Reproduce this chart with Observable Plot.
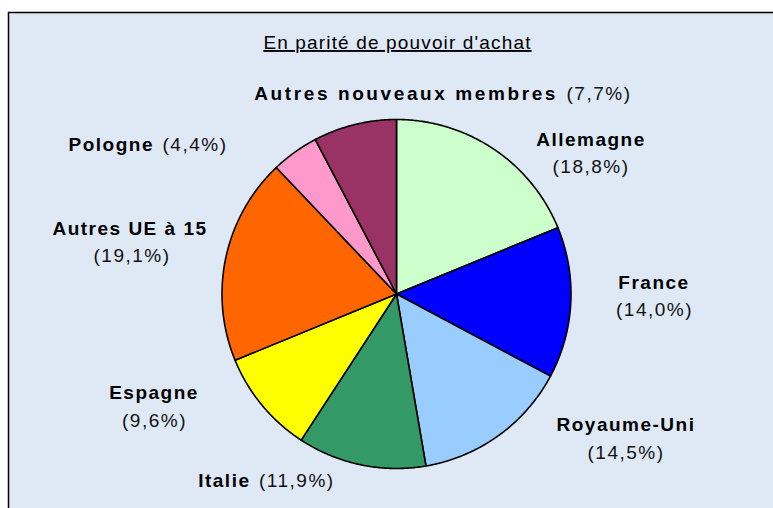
<!DOCTYPE html>
<html><head><meta charset="utf-8">
<script src="https://cdn.jsdelivr.net/npm/d3@7"></script>
<script src="https://cdn.jsdelivr.net/npm/@observablehq/plot@0.6"></script>
<style>
html,body{margin:0;padding:0;background:#fff;overflow:hidden;width:773px;height:508px}
#chart{width:773px;height:508px;overflow:hidden}
#chart svg{display:block;max-width:none !important}
</style>
</head><body><div id="chart"></div>
<script>
// ---- data ----
const pays = ["Allemagne", "France", "Royaume-Uni", "Italie", "Espagne", "Autres UE à 15", "Pologne", "Autres nouveaux membres"];
const parts = [18.8, 14.0, 14.5, 11.9, 9.6, 19.1, 4.4, 7.7];
const couleurs = ["#CCFFCC", "#0000FF", "#99CCFF", "#339966", "#FFFF00", "#FF6600", "#FF99CC", "#993366"];
const titre = "En parité de pouvoir d'achat";
const pctTexte = parts.map(v => "(" + v.toFixed(1).replace(".", ",") + "%)");

// ---- layout (pixels) ----
const W = 780, H = 515, mL = 8, mT = 12;
const cx = 396, cy = 293.5, R = 174.5;
const xDomain = [-(cx - mL) / R, (W - cx) / R];
const yDomain = [-(H - cy) / R, (cy - mT) / R];
const px = (X) => (X - cx) / R;
const py = (Y) => -(Y - cy) / R;

// label placement: two-line (centered) or one-line (junction between name and pct)
const labelLayout = [
  {mode: "two", x: 590.5, y: 145, px: 590.5, py: 172.5},
  {mode: "two", x: 653.5, y: 288, px: 654, py: 315.5},
  {mode: "two", x: 625.5, y: 430.5, px: 625.5, py: 458.5},
  {mode: "one", j: 253.5, y: 486},
  {mode: "two", x: 153.5, y: 398, px: 154, py: 426.5},
  {mode: "two", x: 129.5, y: 234, px: 131.5, py: 261.5},
  {mode: "one", j: 157, y: 150.5},
  {mode: "one", j: 561, y: 99}
];

// ---- slices from d3.pie ----
const arcs = d3.pie().sort(null).value(d => d)(parts);
const slices = [];
arcs.forEach((a, i) => {
  slices.push({pays: pays[i], x: 0, y: 0});
  const n = Math.max(2, Math.ceil((a.endAngle - a.startAngle) / (Math.PI / 360)));
  for (let k = 0; k <= n; k++) {
    const t = a.startAngle + (a.endAngle - a.startAngle) * k / n;
    slices.push({pays: pays[i], x: Math.sin(t), y: Math.cos(t)});
  }
  slices.push({pays: pays[i], x: 0, y: 0});
});

const namesMid = [], namesEnd = [], pctMid = [], pctStart = [];
pays.forEach((p, i) => {
  const L = labelLayout[i];
  if (L.mode === "two") {
    namesMid.push({t: p, x: px(L.x), y: py(L.y)});
    pctMid.push({t: pctTexte[i], x: px(L.px), y: py(L.py)});
  } else {
    namesEnd.push({t: p, x: px(L.j - 3.5), y: py(L.y)});
    pctStart.push({t: pctTexte[i], x: px(L.j + 5), y: py(L.y)});
  }
});

const font = "'Liberation Sans', Arial, sans-serif";
const common = {x: "x", y: "y", text: "t", fontSize: 19, fill: "#000", lineAnchor: "bottom", fontFamily: font};

const chart = Plot.plot({
  width: W, height: H,
  marginLeft: mL, marginTop: mT, marginRight: 0, marginBottom: 0,
  x: {domain: xDomain, axis: null},
  y: {domain: yDomain, axis: null},
  color: {domain: pays, range: couleurs},
  style: {background: "transparent", fontFamily: font, maxWidth: "none"},
  marks: [
    Plot.frame({fill: "#dfe9f5", stroke: "#000", strokeWidth: 1.5}),
    Plot.line(slices, {x: "x", y: "y", z: "pays", fill: "pays", stroke: "#000", strokeWidth: 1.6, strokeLinejoin: "round", curve: "linear"}),
    Plot.text([titre], {x: () => px(397), y: () => py(48.5), text: d => d, fontSize: 19, fill: "#000", lineAnchor: "bottom", fontFamily: font}),
    Plot.text(namesMid, {...common, fontWeight: "bold", textAnchor: "middle"}),
    Plot.text(namesEnd, {...common, fontWeight: "bold", textAnchor: "end"}),
    Plot.text(pctMid, {...common, fill: "#111", textAnchor: "middle"}),
    Plot.text(pctStart, {...common, fill: "#111", textAnchor: "start"})
  ]
});

chart.style.maxWidth = "none";
chart.querySelectorAll("text").forEach(t => {
  if (t.textContent === titre) {
    t.style.letterSpacing = "1.15px";
    t.style.textDecoration = "underline";
    t.style.textDecorationThickness = "2px";
    t.style.textUnderlineOffset = "3px";
  } else if (t.textContent === "Autres nouveaux membres") {
    t.style.letterSpacing = "2.6px";
  } else {
    t.style.letterSpacing = "1.5px";
  }
});
document.getElementById("chart").appendChild(chart);
</script>
</body></html>
